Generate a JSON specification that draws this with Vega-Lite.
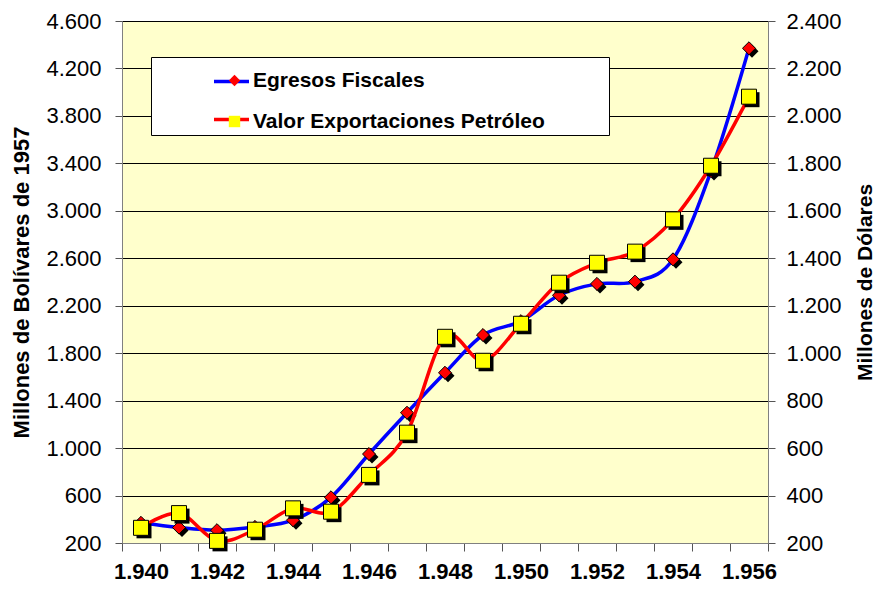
{
  "$schema": "https://vega.github.io/schema/vega-lite/v6.json",
  "width": 646,
  "height": 522,
  "autosize": {"type": "none"},
  "padding": {"left": 122, "top": 21, "right": 107, "bottom": 46},
  "background": "white",
  "config": {
    "view": {"fill": "#FFFFCC", "stroke": "#808080", "strokeWidth": 1},
    "font": "Liberation Sans",
    "axis": {"labelFont": "Liberation Sans", "titleFont": "Liberation Sans", "labelColor": "black", "titleColor": "black", "domainColor": "#808080", "tickColor": "#555555"}
  },
  "data": {"values": [
    {"anio": "1.940", "egresos": 370, "exportaciones": 264},
    {"anio": "1.941", "egresos": 330, "exportaciones": 326},
    {"anio": "1.942", "egresos": 308, "exportaciones": 209},
    {"anio": "1.943", "egresos": 335, "exportaciones": 256},
    {"anio": "1.944", "egresos": 392, "exportaciones": 346},
    {"anio": "1.945", "egresos": 585, "exportaciones": 332},
    {"anio": "1.946", "egresos": 950, "exportaciones": 487},
    {"anio": "1.947", "egresos": 1298, "exportaciones": 665},
    {"anio": "1.948", "egresos": 1635, "exportaciones": 1069},
    {"anio": "1.949", "egresos": 1953, "exportaciones": 968},
    {"anio": "1.950", "egresos": 2070, "exportaciones": 1124},
    {"anio": "1.951", "egresos": 2288, "exportaciones": 1297},
    {"anio": "1.952", "egresos": 2384, "exportaciones": 1381},
    {"anio": "1.953", "egresos": 2403, "exportaciones": 1428},
    {"anio": "1.954", "egresos": 2591, "exportaciones": 1564},
    {"anio": "1.955", "egresos": 3335, "exportaciones": 1790},
    {"anio": "1.956", "egresos": 4370, "exportaciones": 2081}
  ]},
  "encoding": {
    "x": {
      "field": "anio", "type": "ordinal", "sort": null,
      "scale": {"type": "band", "paddingInner": 0, "paddingOuter": 0},
      "axis": {"title": null, "labelAngle": 0, "labelFontSize": 22, "labelFontWeight": "bold", "labelPadding": 10, "tickSize": 8, "tickBand": "extent", "labelOverlap": false, "grid": false,
        "labelExpr": "toNumber(replace(datum.value, '.', '')) % 2 == 0 ? datum.label : ''"}
    }
  },
  "layer": [
    {
      "encoding": {
        "y": {"field": "egresos", "type": "quantitative",
          "scale": {"domain": [200, 4600], "nice": false, "zero": false},
          "axis": {"orient": "left", "values": [200, 600, 1000, 1400, 1800, 2200, 2600, 3000, 3400, 3800, 4200, 4600],
            "title": "Millones de Bolívares de 1957", "titleFontSize": 22, "titleFontWeight": "bold", "titlePadding": 12,
            "labelFontSize": 22, "labelPadding": 14, "tickSize": 7, "grid": true, "gridColor": "black", "gridWidth": 1, "gridOpacity": 1,
            "labelExpr": "replace(format(datum.value, ','), ',', '.')"}
        }
      },
      "layer": [
        {
          "mark": {"type": "line", "interpolate": "cardinal", "strokeWidth": 3.5},
          "encoding": {
            "stroke": {"datum": "Egresos Fiscales", "type": "nominal",
              "scale": {"domain": ["Egresos Fiscales", "Valor Exportaciones Petróleo"], "range": ["#0000FF", "#FF0000"]},
              "legend": {"orient": "none", "legendX": 29, "legendY": 36, "title": null, "fillColor": "white", "strokeColor": "black", "padding": 5, "symbolOffset": 56, "symbolType": "stroke", "symbolSize": 1225, "symbolStrokeWidth": 3.5, "labelFont": "Liberation Sans", "labelFontSize": 21, "labelFontWeight": "bold", "labelOffset": 353, "labelLimit": 0, "rowPadding": 8, "zindex": 0,
                "labelExpr": "''"}
            }
          }
        },
        {
          "mark": {"type": "point", "shape": "diamond", "filled": true, "color": "black", "opacity": 1, "size": 170, "xOffset": 3, "yOffset": 3}
        },
        {
          "mark": {"type": "point", "shape": "diamond", "filled": true, "stroke": "black", "strokeWidth": 1, "opacity": 1, "size": 170},
          "encoding": {
            "fill": {"datum": "Egresos Fiscales", "type": "nominal", "scale": {"range": ["#FF0000", "#FFFF00"]},
              "legend": {"orient": "none", "legendX": 29, "legendY": 36, "title": null, "padding": 13, "symbolOffset": 60, "symbolSize": 130, "symbolStrokeColor": "black", "symbolStrokeWidth": 1, "labelFont": "Liberation Sans", "labelFontSize": 21, "labelFontWeight": "bold", "labelColor": "black", "labelOffset": 8, "labelLimit": 0, "rowPadding": 19, "zindex": 1}},
            "shape": {"datum": "Egresos Fiscales", "type": "nominal", "scale": {"range": ["diamond", "square"]},
              "legend": {"orient": "none", "legendX": 29, "legendY": 36, "title": null, "padding": 13, "symbolOffset": 60, "symbolSize": 130, "symbolStrokeColor": "black", "symbolStrokeWidth": 1, "labelFont": "Liberation Sans", "labelFontSize": 21, "labelFontWeight": "bold", "labelColor": "black", "labelOffset": 8, "labelLimit": 0, "rowPadding": 19, "zindex": 1}}
          }
        }
      ]
    },
    {
      "encoding": {
        "y": {"field": "exportaciones", "type": "quantitative",
          "scale": {"domain": [200, 2400], "nice": false, "zero": false},
          "axis": {"orient": "right", "values": [200, 400, 600, 800, 1000, 1200, 1400, 1600, 1800, 2000, 2200, 2400],
            "title": "Millones de Dólares", "titleFontSize": 21, "titleFontWeight": "bold", "titleAngle": 270, "titlePadding": 34,
            "labelFontSize": 22, "labelPadding": 11, "tickSize": 7, "grid": false,
            "labelExpr": "replace(format(datum.value, ','), ',', '.')"}
        }
      },
      "layer": [
        {
          "mark": {"type": "line", "interpolate": "cardinal", "strokeWidth": 3.5},
          "encoding": {"stroke": {"datum": "Valor Exportaciones Petróleo", "type": "nominal"}}
        },
        {
          "mark": {"type": "point", "shape": "square", "filled": true, "color": "black", "opacity": 1, "size": 225, "xOffset": 3, "yOffset": 3}
        },
        {
          "mark": {"type": "point", "shape": "square", "filled": true, "stroke": "black", "strokeWidth": 1, "opacity": 1, "size": 225},
          "encoding": {
            "fill": {"datum": "Valor Exportaciones Petróleo", "type": "nominal"},
            "shape": {"datum": "Valor Exportaciones Petróleo", "type": "nominal"}
          }
        }
      ]
    }
  ],
  "resolve": {"scale": {"y": "independent"}}
}
